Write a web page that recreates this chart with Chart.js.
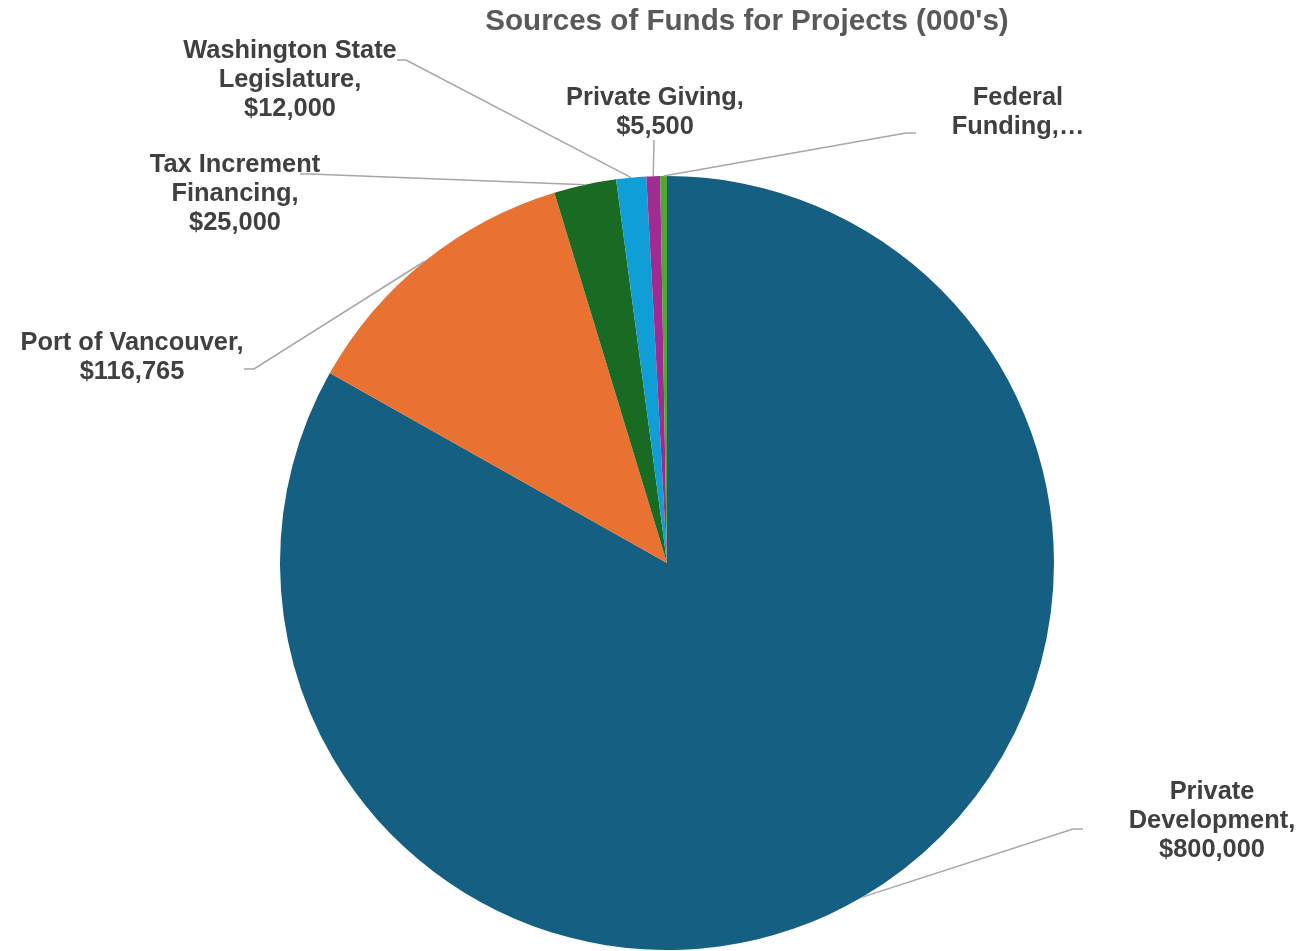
<!DOCTYPE html>
<html>
<head>
<meta charset="utf-8">
<title>Sources of Funds for Projects</title>
<script src="https://cdn.jsdelivr.net/npm/chart.js@4.4.1/dist/chart.umd.min.js"></script>
<style>
  html, body { margin: 0; padding: 0; background: #fff; }
  canvas { display: block; }
</style>
</head>
<body>
<canvas id="fundsChart" width="1302" height="951"></canvas>
<script>
const chartTitle = "Sources of Funds for Projects (000's)";

const categories = [
  'Private Development',
  'Port of Vancouver',
  'Tax Increment Financing',
  'Washington State Legislature',
  'Private Giving',
  'Federal Funding',
];
const values = [800000, 116765, 25000, 12000, 5500, 2700];
const colors = ['#156082', '#E97132', '#196B24', '#0F9ED5', '#A02B93', '#4EA72E'];

// label boxes, relative to the pie centre (px): text centre of first line,
// where the leader line meets the label, and the little horizontal tail
const labelLayout = [
  { x: 545, y: 229, ex: 406, ey: 266, tail: 10, wrap: 205, maxLines: 3 },
  { x: -535, y: -220, ex: -413, ey: -194, tail: -10, wrap: 245, maxLines: 3 },
  { x: -432, y: -398, ex: -357, ey: -389, tail: -10, wrap: 205, maxLines: 3 },
  { x: -377, y: -512, ex: -261, ey: -503, tail: -9, wrap: 230, maxLines: 3 },
  { x: -12, y: -465, ex: -13, ey: -423, tail: 0, wrap: 205, maxLines: 3 },
  { x: 351, y: -465, ex: 239, ey: -430, tail: 10, wrap: 150, maxLines: 2 },
];

const fmt = v => '$' + v.toLocaleString('en-US');

function wrapText(ctx, text, width, maxLines) {
  const words = text.split(' ');
  const lines = [];
  let cur = '';
  words.forEach(w => {
    const test = cur ? cur + ' ' + w : w;
    if (cur && ctx.measureText(test).width > width) {
      lines.push(cur);
      cur = w;
    } else {
      cur = test;
    }
  });
  if (cur) lines.push(cur);
  if (lines.length > maxLines) {
    const kept = lines.slice(0, maxLines);
    kept[maxLines - 1] += '\u2026';
    return kept;
  }
  return lines;
}

const sliceLabels = {
  id: 'sliceLabels',
  afterDatasetsDraw(chart) {
    const ctx = chart.ctx;
    const arcs = chart.getDatasetMeta(0).data;
    ctx.save();
    ctx.font = 'bold 25.4px "Liberation Sans", Arial, sans-serif';
    ctx.textAlign = 'center';
    ctx.textBaseline = 'middle';
    arcs.forEach((arc, i) => {
      const L = labelLayout[i];
      const mid = (arc.startAngle + arc.endAngle) / 2;
      const px = arc.x + Math.cos(mid) * arc.outerRadius;
      const py = arc.y + Math.sin(mid) * arc.outerRadius;
      const ex = arc.x + L.ex, ey = arc.y + L.ey;

      ctx.strokeStyle = '#A6A6A6';
      ctx.lineWidth = 1.5;
      ctx.beginPath();
      ctx.moveTo(px, py);
      ctx.lineTo(ex, ey);
      if (L.tail) ctx.lineTo(ex + L.tail, ey);
      ctx.stroke();

      const lines = wrapText(ctx, categories[i] + ', ' + fmt(values[i]), L.wrap, L.maxLines);
      ctx.fillStyle = '#404040';
      lines.forEach((line, k) => {
        ctx.fillText(line, arc.x + L.x, arc.y + L.y + k * 29);
      });
    });

    ctx.font = 'bold 29.6px "Liberation Sans", Arial, sans-serif';
    ctx.fillStyle = '#595959';
    ctx.fillText(chartTitle, 747, 22);
    ctx.restore();
  }
};

new Chart(document.getElementById('fundsChart'), {
  type: 'pie',
  data: {
    labels: categories,
    datasets: [{
      data: values,
      backgroundColor: colors,
      borderWidth: 0,
    }],
  },
  options: {
    responsive: false,
    animation: false,
    layout: { padding: { left: 280, right: 248, top: 176, bottom: 1 } },
    plugins: {
      legend: { display: false },
      tooltip: { enabled: false },
      title: { display: false },
    },
  },
  plugins: [sliceLabels],
});
</script>
</body>
</html>
